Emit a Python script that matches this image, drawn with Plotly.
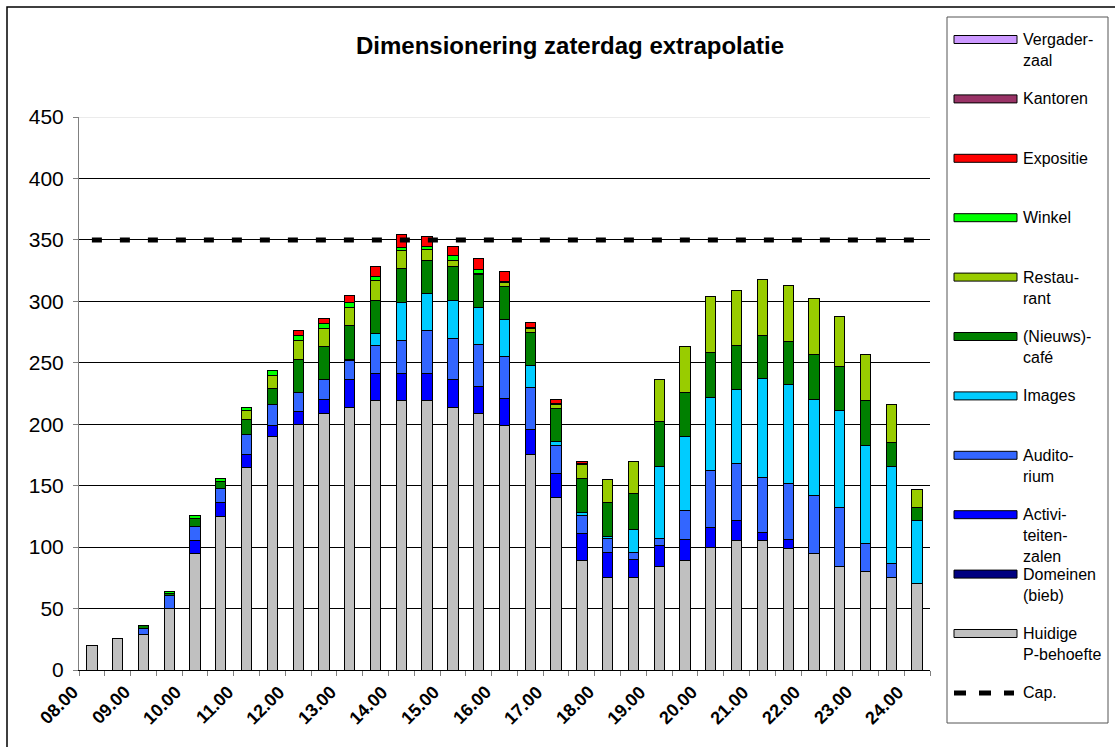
import plotly.graph_objects as go

categories = ["08.00", "08.30", "09.00", "09.30", "10.00", "10.30", "11.00", "11.30",
              "12.00", "12.30", "13.00", "13.30", "14.00", "14.30", "15.00", "15.30",
              "16.00", "16.30", "17.00", "17.30", "18.00", "18.30", "19.00", "19.30",
              "20.00", "20.30", "21.00", "21.30", "22.00", "22.30", "23.00", "23.30", "24.00"]
tick_labels = ["08.00", "", "09.00", "", "10.00", "", "11.00", "", "12.00", "", "13.00", "",
               "14.00", "", "15.00", "", "16.00", "", "17.00", "", "18.00", "", "19.00", "",
               "20.00", "", "21.00", "", "22.00", "", "23.00", "", "24.00"]

huidige = [20, 26, 29, 50, 95, 125, 165, 190, 200, 209, 214, 219, 219, 219, 214, 209, 199,
           175, 140, 89, 75, 75, 84, 89, 100, 105, 105, 99, 95, 84, 80, 75, 70]
domeinen = [0] * 33
activiteiten = [0, 0, 0, 0, 10, 11, 10, 9, 10, 11, 22, 22, 22, 22, 22, 22, 22, 21, 20, 22, 21,
                15, 17, 17, 16, 17, 7, 7, 0, 0, 0, 0, 0]
auditorium = [0, 0, 5, 11, 12, 12, 17, 17, 16, 16, 16, 23, 27, 35, 34, 34, 34, 34, 23, 15, 11,
              6, 6, 24, 46, 46, 45, 46, 47, 48, 23, 12, 0]
images = [0, 0, 0, 0, 0, 0, 0, 0, 0, 0, 1, 10, 31, 30, 31, 30, 30, 18, 3, 2, 2, 18, 59, 60,
          60, 60, 80, 80, 78, 79, 80, 79, 52]
cafe = [0, 0, 2, 1, 6, 5, 12, 13, 27, 27, 27, 27, 28, 27, 27, 27, 27, 27, 27, 28, 27, 30, 36,
        36, 36, 36, 35, 35, 37, 36, 36, 19, 10]
restaurant = [0, 0, 0, 0, 0, 0, 7, 11, 15, 15, 15, 16, 14, 9, 5, 1, 3, 3, 3, 11, 19, 26, 34, 37,
              46, 45, 46, 46, 45, 41, 38, 31, 15]
winkel = [0, 0, 0, 2, 3, 3, 3, 4, 4, 4, 4, 3, 3, 3, 4, 3, 1, 1, 1, 1, 0, 0, 0, 0, 0, 0, 0, 0,
          0, 0, 0, 0, 0]
expositie = [0, 0, 0, 0, 0, 0, 0, 0, 4, 4, 6, 8, 10, 8, 8, 9, 8, 4, 3, 2, 0, 0, 0, 0, 0, 0, 0,
             0, 0, 0, 0, 0, 0]
kantoren = [0] * 33
vergaderzaal = [0] * 33
capaciteit = [350] * 33

series = [
    ("Huidige P-behoefte", huidige, "#C0C0C0"),
    ("Domeinen (bieb)", domeinen, "#000080"),
    ("Activiteitenzalen", activiteiten, "#0000FF"),
    ("Auditorium", auditorium, "#3366FF"),
    ("Images", images, "#00CCFF"),
    ("(Nieuws)-café", cafe, "#008000"),
    ("Restaurant", restaurant, "#99CC00"),
    ("Winkel", winkel, "#00FF00"),
    ("Expositie", expositie, "#FF0000"),
    ("Kantoren", kantoren, "#993366"),
    ("Vergaderzaal", vergaderzaal, "#CC99FF"),
]

legend_entries = [
    (["Vergader-", "zaal"], "#CC99FF"),
    (["Kantoren"], "#993366"),
    (["Expositie"], "#FF0000"),
    (["Winkel"], "#00FF00"),
    (["Restau-", "rant"], "#99CC00"),
    (["(Nieuws)-", "café"], "#008000"),
    (["Images"], "#00CCFF"),
    (["Audito-", "rium"], "#3366FF"),
    (["Activi-", "teiten-", "zalen"], "#0000FF"),
    (["Domeinen", "(bieb)"], "#000080"),
    (["Huidige", "P-behoefte"], "#C0C0C0"),
    (["Cap."], None),
]

FONT = "Liberation Sans, Arial, sans-serif"
W, H = 1115, 747
L, R, T, B = 79, 930, 117, 670


def px(x):
    return (x - L) / (R - L)


def py(y):
    return (B - y) / (B - T)


fig = go.Figure()
for name, vals, color in series:
    fig.add_trace(go.Bar(
        x=categories,
        y=[v if v else None for v in vals],
        name=name,
        marker=dict(color=color, line=dict(color="#000000", width=1)),
        width=0.4,
        showlegend=False,
    ))

fig.add_trace(go.Scatter(
    x=categories, y=capaciteit, mode="lines", name="Cap.",
    line=dict(color="#000000", width=5, dash="10px,18px"),
    showlegend=False,
))

shapes = []
annotations = []

# outer chart border (right/bottom edges fall outside the picture)
shapes.append(dict(type="rect", xref="paper", yref="paper",
                   x0=px(7), x1=px(1125), y0=py(760), y1=py(7),
                   line=dict(color="#000000", width=1.5), layer="below"))
# light top gridline
shapes.append(dict(type="line", xref="paper", yref="y", x0=0, x1=1, y0=450, y1=450,
                   line=dict(color="#D8D8D8", width=1)))
# legend box
shapes.append(dict(type="rect", xref="paper", yref="paper",
                   x0=px(947), x1=px(1108), y0=py(723), y1=py(17),
                   line=dict(color="#555555", width=1)))

y0 = 39.5
step = 59.4
for i, (lines, color) in enumerate(legend_entries):
    yc = y0 + i * step
    if color is None:
        shapes.append(dict(type="line", xref="paper", yref="paper",
                           x0=px(954), x1=px(1014), y0=py(yc), y1=py(yc),
                           line=dict(color="#000000", width=5, dash="12px,13px")))
    else:
        shapes.append(dict(type="rect", xref="paper", yref="paper",
                           x0=px(954), x1=px(1017), y0=py(yc + 4), y1=py(yc - 4),
                           fillcolor=color, line=dict(color="#000000", width=1)))
    for j, t in enumerate(lines):
        annotations.append(dict(
            text=t, xref="paper", yref="paper", x=px(1021), y=py(yc + j * 21),
            xanchor="left", yanchor="middle", showarrow=False,
            font=dict(family=FONT, size=16, color="#000000")))

# rotated category labels (whole hours), placed at category index
for idx, lab in enumerate(tick_labels):
    if lab:
        annotations.append(dict(
            text="<b>" + lab + "</b>", xref="x", yref="paper", x=idx, y=py(681),
            xanchor="right", yanchor="top", xshift=-8, textangle=-45, showarrow=False,
            borderpad=0, font=dict(family=FONT, size=18, color="#000000")))

annotations.append(dict(
    text="<b>Dimensionering zaterdag extrapolatie</b>", xref="paper", yref="paper",
    x=px(570), y=py(46), xanchor="center", yanchor="middle", showarrow=False,
    font=dict(family=FONT, size=24, color="#000000")))

fig.update_layout(
    width=W, height=H,
    margin=dict(l=L, r=W - R, t=T, b=H - B, pad=0),
    paper_bgcolor="#FFFFFF", plot_bgcolor="#FFFFFF",
    barmode="stack", bargap=0.6,
    font=dict(family=FONT, color="#000000"),
    shapes=shapes, annotations=annotations,
    showlegend=False,
)
fig.update_xaxes(
    type="category", categoryorder="array", categoryarray=categories,
    tickmode="array", tickvals=categories, ticktext=tick_labels,
    tickson="boundaries", ticks="outside", ticklen=5, tickcolor="#808080",
    showticklabels=False,
    showline=True, linecolor="#000000", linewidth=1, showgrid=False,
    range=[-0.5, 32.5],
)
fig.update_yaxes(
    range=[0, 450], dtick=50, tick0=0, ticks="outside", ticklen=5, tickcolor="#808080",
    tickfont=dict(family=FONT, size=21, color="#000000"), ticklabelstandoff=5,
    showline=True, linecolor="#808080", linewidth=1,
    showgrid=True, gridcolor="#000000", gridwidth=1, zeroline=False,
)

fig.write_html("out.html", config={"displayModeBar": False},
               post_script="document.body.style.margin='0px';")
